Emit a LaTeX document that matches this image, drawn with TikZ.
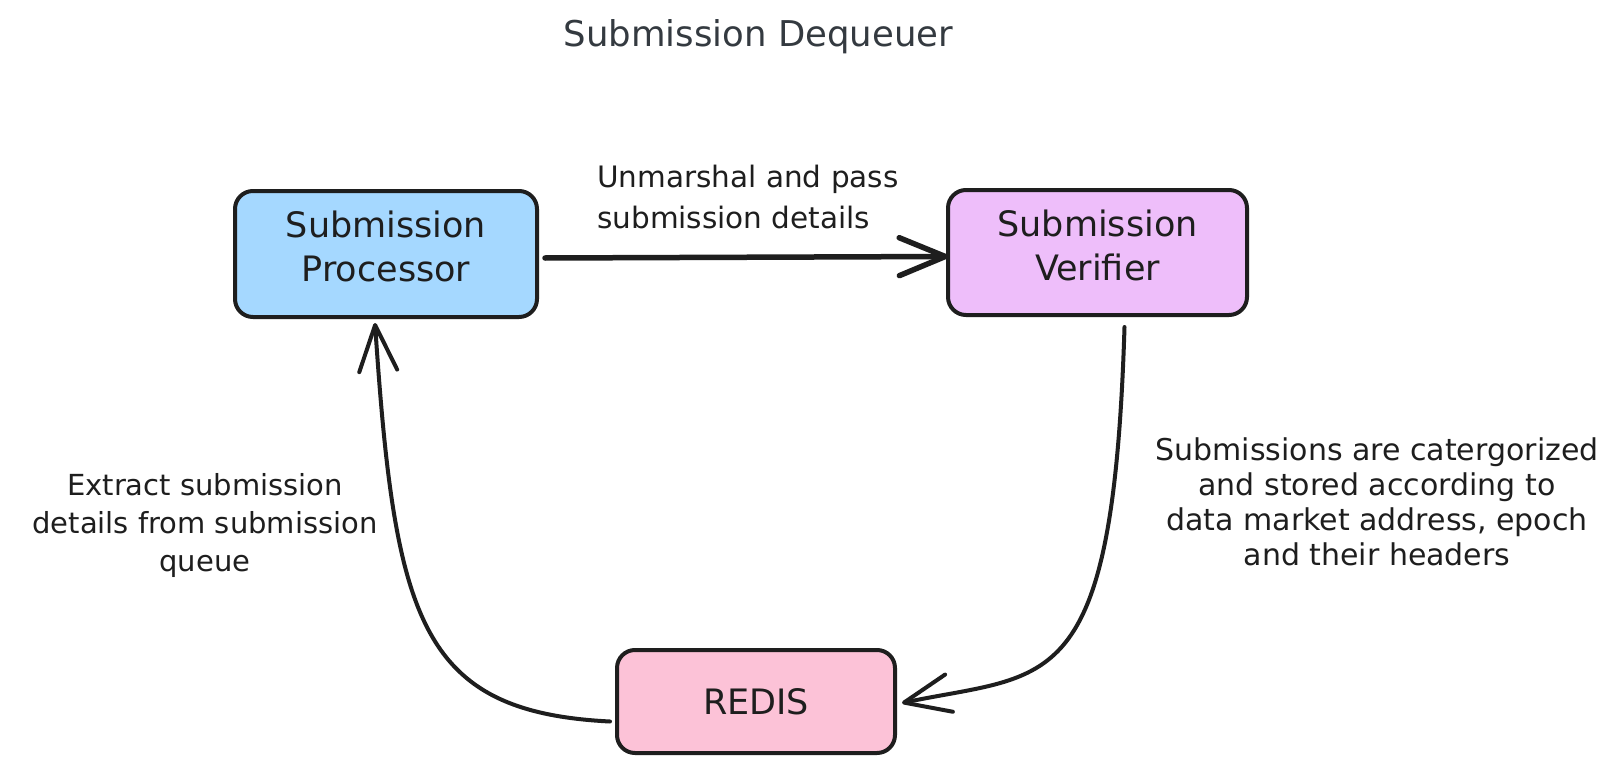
\documentclass[tikz,border=0pt]{standalone}
\usepackage{fontspec}
\setmainfont{DejaVu Sans}
\usetikzlibrary{arrows.meta}
\definecolor{ink}{HTML}{1E1E1E}
\definecolor{titleink}{HTML}{343A40}
\definecolor{procfill}{HTML}{A5D8FF}
\definecolor{veriffill}{HTML}{EEBEFA}
\definecolor{redisfill}{HTML}{FCC2D7}
\tikzset{
  box/.style={draw=ink, line width=4pt, rounded corners=18pt, outer sep=0pt,
    inner sep=0pt, align=center, text=ink, font=\fontsize{35}{44}\selectfont},
  lbl/.style={text=ink, inner sep=0pt, font=\fontsize{29}{38}\selectfont},
  conn/.style={draw=ink, line width=4pt, line cap=round,
    -{Straight Barb[length=46pt,width=38pt,round]}},
}
\begin{document}
\begin{tikzpicture}[x=1pt,y=-1pt]
\useasboundingbox[fill=white] (0,0) rectangle (1622,781);

\node[text=titleink, inner sep=0pt, anchor=base, font=\fontsize{35.5}{44}\selectfont] (title) at (758.5,47) {Submission Dequeuer};

\node[box, fill=procfill, minimum width=302pt, minimum height=126pt] (proc) at (386,254)
  {Submission\\Processor\rule[-15pt]{0pt}{0pt}};
\node[box, fill=veriffill, minimum width=299pt, minimum height=125pt] (verif) at (1097.5,252.5)
  {Submission\\Verifier\rule[-15pt]{0pt}{0pt}};
\node[box, fill=redisfill, minimum width=278pt, minimum height=103pt] (redis) at (756,701.5)
  {REDIS};

\node[lbl, anchor=base west, align=left, font=\fontsize{29.5}{41}\selectfont] (lbltop) at (597,228)
  {Unmarshal and pass\\submission details};
\node[lbl, anchor=base, align=center] (lblleft) at (205,571)
  {Extract submission\\details from submission\\queue};
\node[lbl, anchor=base, align=center, font=\fontsize{30}{35}\selectfont] (lblright) at (1377,565)
  {Submissions are catergorized\\and stored according to\\data market address, epoch\\and their headers};

\draw[conn, line width=5.5pt] ([xshift=8pt,yshift=-4pt]proc.east) -- ([yshift=-4pt]verif.west);
\draw[conn] ([xshift=-7pt,yshift=-20pt]redis.west) .. controls (420,712) and (395,620) .. ([xshift=-11pt,yshift=-6pt]proc.south);
\draw[conn] ([xshift=27pt,yshift=-12pt]verif.south) .. controls (1113,700) and (1050,672) .. ([xshift=7pt,yshift=-1.5pt]redis.east);
\end{tikzpicture}
\end{document}
